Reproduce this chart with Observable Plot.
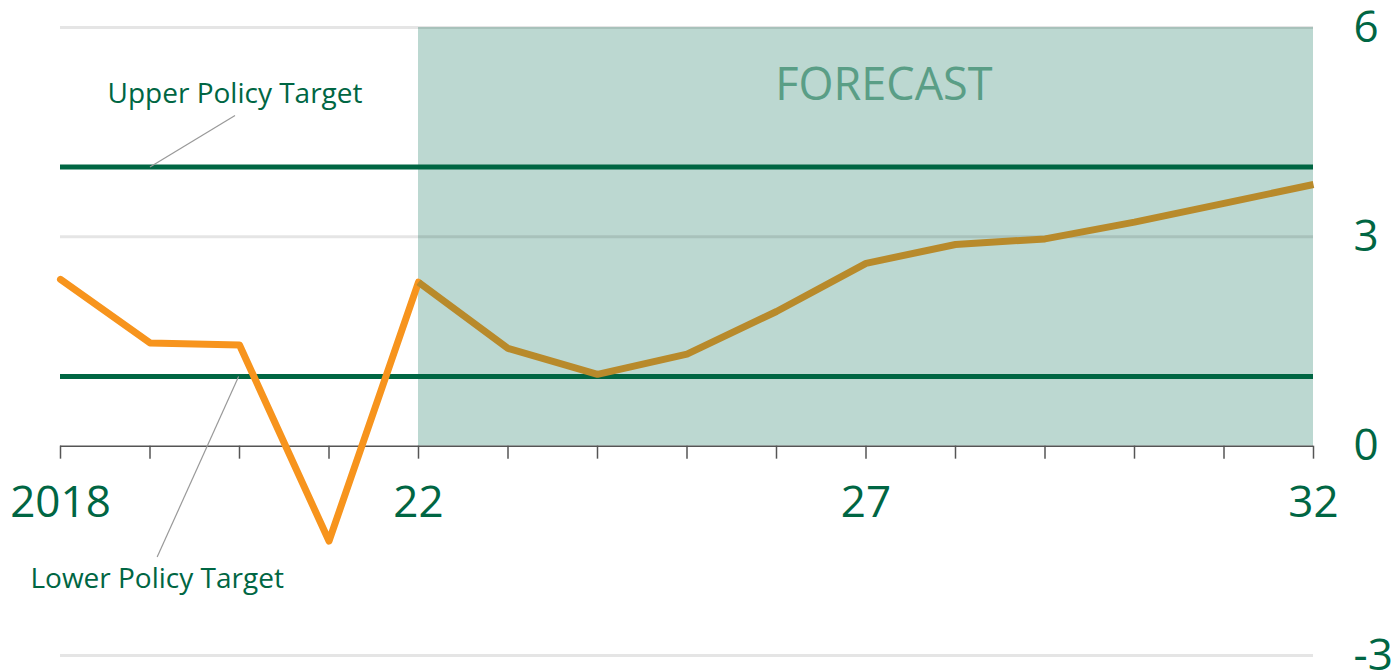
<!DOCTYPE html>
<html>
<head>
<meta charset="utf-8">
<script src="https://cdn.jsdelivr.net/npm/d3@7"></script>
<script src="https://cdn.jsdelivr.net/npm/@observablehq/plot@0.6"></script>
<style>
  html, body { margin: 0; padding: 0; background: #fff; }
  #chart svg { display: block; }
</style>
</head>
<body>
<div id="chart"></div>
<script>
// Data
const years = [2018, 2019, 2020, 2021, 2022, 2023, 2024, 2025, 2026, 2027, 2028, 2029, 2030, 2031, 2032];
const inflation = [2.39, 1.48, 1.45, -1.36, 2.35, 1.40, 1.03, 1.32, 1.93, 2.62, 2.89, 2.97, 3.21, 3.48, 3.75];
const forecastStart = 2022;
const upperTarget = 4;
const lowerTarget = 1;
const xTickLabels = [{x: 2018, label: "2018"}, {x: 2022, label: "22"}, {x: 2027, label: "27"}, {x: 2032, label: "32"}];
const yTicks = [-3, 0, 3, 6];
const forecastLabel = [{text: "FORECAST", x: 2027.2, y: 6}];
const annotations = [
  {text: "Upper Policy Target", x: 2019.95, y: 5.04, lx1: 2019.95, ly1: 4.74, lx2: 2019.0, ly2: 4.0},
  {text: "Lower Policy Target", x: 2019.08, y: -1.9, lx1: 2019.08, ly1: -1.59, lx2: 2019.99, ly2: 1.0}
];

const series = years.map((y, i) => ({year: y, value: inflation[i]}));
const actual = series.filter(d => d.year <= forecastStart);
const forecast = series.filter(d => d.year >= forecastStart);

const green = "#006643";
const font = "Open Sans";

const chart = Plot.plot({
  width: 1395,
  height: 671,
  marginLeft: 60,
  marginRight: 82,
  marginTop: 27,
  marginBottom: 16,
  style: {fontFamily: font, background: "#fff", overflow: "visible"},
  x: {domain: [2018, 2032], axis: null},
  y: {domain: [-3, 6], axis: null},
  marks: [
    // forecast shade
    Plot.rect([{x1: forecastStart, x2: years[years.length - 1], y1: 0, y2: 6}], {x1: "x1", x2: "x2", y1: "y1", y2: "y2", fill: "#bcd8d1"}),
    // gridlines
    Plot.ruleY(yTicks.filter(d => d !== 0), {stroke: "#000", strokeOpacity: 0.1, strokeWidth: 3}),
    // FORECAST label
    Plot.text(forecastLabel, {x: "x", y: "y", dy: 58, text: "text", fill: "#5a9e86", fontSize: 45, fontWeight: 500, fontFamily: font}),
    // policy targets
    Plot.ruleY([upperTarget, lowerTarget], {stroke: green, strokeWidth: 5}),
    // x axis line & ticks
    Plot.ruleY([0], {stroke: "#555", strokeWidth: 1.5}),
    Plot.ruleX(years, {x: d => d, y1: 0, y2: 0, insetBottom: -13, stroke: "#555", strokeWidth: 1.5}),
    Plot.text(xTickLabels, {x: "x", y: 0, dy: 57, text: "label", fill: green, fontSize: 44, fontFamily: font}),
    // y axis on right
    Plot.axisY(yTicks, {anchor: "right", tickSize: 0, tickPadding: 40, fill: green, fontSize: 44, textAnchor: "start", tickFormat: d => String(d), label: null, fontFamily: font}),
    // lines
    Plot.line(actual, {x: "year", y: "value", stroke: "#f7941d", strokeWidth: 7, strokeLinejoin: "round", strokeLinecap: "round"}),
    Plot.line(forecast, {x: "year", y: "value", stroke: "#b88a2b", strokeWidth: 7, strokeLinejoin: "round", strokeLinecap: "butt"}),
    // annotations
    Plot.link(annotations, {x1: "lx1", y1: "ly1", x2: "lx2", y2: "ly2", stroke: "#999", strokeWidth: 1.2}),
    Plot.text(annotations, {x: "x", y: "y", text: "text", fill: green, fontSize: 28, fontFamily: font})
  ]
});
document.getElementById("chart").appendChild(chart);
</script>
</body>
</html>
